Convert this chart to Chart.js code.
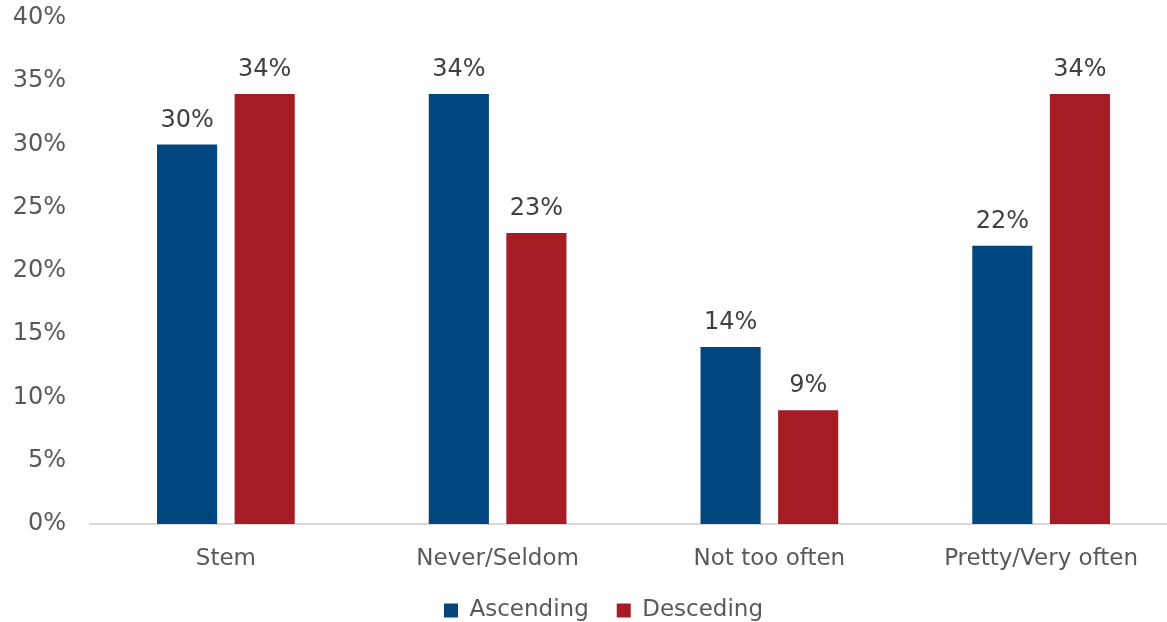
<!DOCTYPE html>
<html>
<head>
<meta charset="utf-8">
<script src="https://cdn.jsdelivr.net/npm/chart.js@4/dist/chart.umd.min.js"></script>
<style>
  html, body { margin: 0; background: #fff; overflow: hidden; }
  #freqChart { display: block; }
</style>
</head>
<body>
<!-- plot is a touch wider than the window; the right edge is clipped -->
<canvas id="freqChart" width="1177" height="622"></canvas>
<script>
const categories = ["Stem", "Never/Seldom", "Not too often", "Pretty/Very often"];
const ascending = [30, 34, 14, 22];
const descending = [34, 23, 9, 34];
const yTicks = [0, 5, 10, 15, 20, 25, 30, 35, 40];

const FONT = "'DejaVu Sans', Verdana, sans-serif";

// write the percentage above every bar
const barValueLabels = {
  id: 'barValueLabels',
  afterDatasetsDraw(chart) {
    const ctx = chart.ctx;
    ctx.save();
    ctx.font = `24px ${FONT}`;
    ctx.fillStyle = '#404040';
    ctx.textAlign = 'center';
    ctx.textBaseline = 'middle';
    chart.data.datasets.forEach((ds, i) => {
      chart.getDatasetMeta(i).data.forEach((bar, j) => {
        ctx.fillText(Math.round(ds.data[j]) + '%', bar.x, bar.y - 24);
      });
    });
    ctx.restore();
  }
};

// keep the legend strip short and centre it under the plot area
const shortLegend = {
  id: 'shortLegend',
  beforeInit(chart) {
    const origFit = chart.legend.fit;
    chart.legend.fit = function () {
      origFit.call(this);
      this.height = 51;
    };
  },
  afterLayout(chart) {
    chart.legend.left += 15;
    chart.legend.right += 15;
  }
};

const ctx = document.getElementById('freqChart');
const freqChart = new Chart(ctx, {
  type: 'bar',
  data: {
    labels: categories,
    datasets: [
      {
        label: 'Ascending',
        data: ascending,
        backgroundColor: 'rgb(0, 70, 127)'
      },
      {
        label: 'Desceding',
        data: descending,
        backgroundColor: 'rgb(165, 28, 36)'
      }
    ]
  },
  options: {
    responsive: false,
    animation: false,
    categoryPercentage: 0.571,
    barPercentage: 0.775,
    layout: { padding: { top: 18, right: 0, left: 0, bottom: 0 } },
    plugins: {
      tooltip: { enabled: false },
      legend: {
        position: 'bottom',
        labels: {
          font: { family: FONT, size: 23 },
          color: '#595959',
          boxWidth: 14,
          boxHeight: 14,
          padding: 28
        }
      }
    },
    scales: {
      x: {
        grid: { display: false, drawTicks: false },
        border: { display: true, color: '#d9d9d9', width: 2 },
        ticks: {
          font: { family: FONT, size: 23 },
          color: '#595959',
          padding: 21
        },
        afterFit(scale) { scale.height = 47; }
      },
      y: {
        min: 0,
        max: 40,
        grid: { display: false, drawTicks: false },
        border: { display: false },
        afterBuildTicks(scale) {
          scale.ticks = yTicks.map(v => ({ value: v }));
        },
        ticks: {
          font: { family: FONT, size: 24 },
          color: '#595959',
          padding: 24,
          callback: v => v + '%'
        },
        afterFit(scale) {
          scale.width = 90;
          scale.paddingTop = 0;
          scale.paddingBottom = 0;
        }
      }
    }
  },
  plugins: [barValueLabels, shortLegend]
});
</script>
</body>
</html>
